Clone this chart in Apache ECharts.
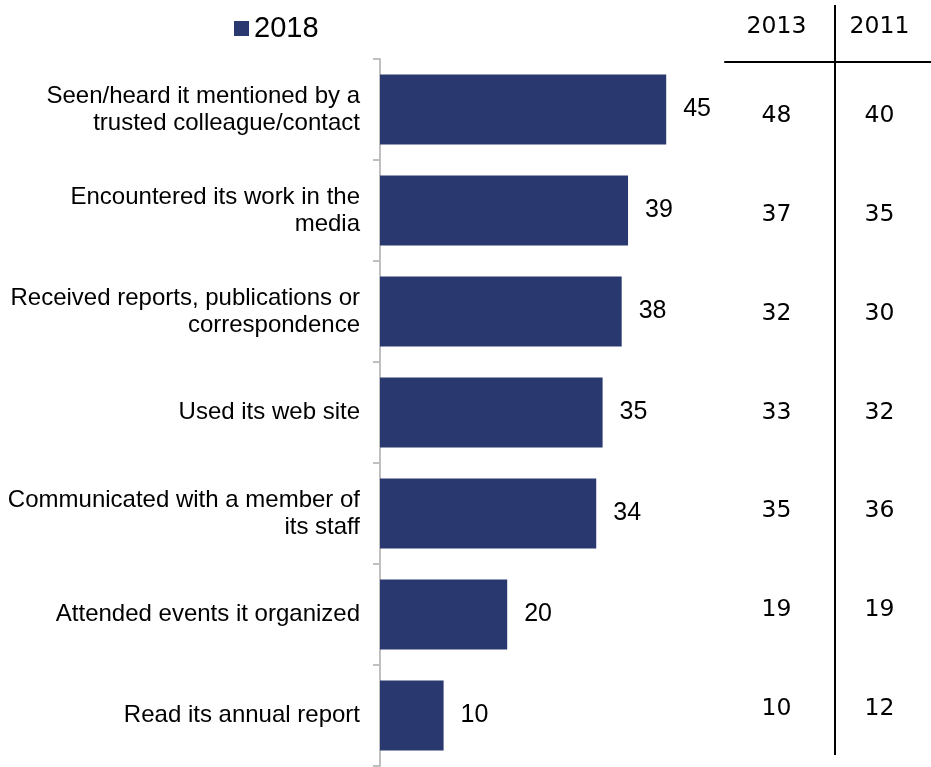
<!DOCTYPE html>
<html>
<head>
<meta charset="utf-8">
<script src="https://cdn.jsdelivr.net/npm/echarts@6/dist/echarts.min.js"></script>
<style>
  html, body { margin: 0; padding: 0; background: #fff; }
  #chart { width: 931px; height: 767px; }
</style>
</head>
<body>
<div id="chart"></div>
<script>
// Ways respondents have come into contact with the organisation
const categories = [
  'Seen/heard it mentioned by a\ntrusted colleague/contact',
  'Encountered its work in the\nmedia',
  'Received reports, publications or\ncorrespondence',
  'Used its web site',
  'Communicated with a member of\nits staff',
  'Attended events it organized',
  'Read its annual report'
];
const values2018 = [45, 39, 38, 35, 34, 20, 10];
const values2013 = [48, 37, 32, 33, 35, 19, 10];
const values2011 = [40, 35, 30, 32, 36, 19, 12];
const tableYears = ['2013', '2011'];

const barColor = '#2A3870';
const sans = '"Liberation Sans", Arial, sans-serif';
const tableFont = '"DejaVu Sans", Verdana, sans-serif';

// comparison table cells: [year column, row category, value]
const tableCells = [];
categories.forEach((c, i) => {
  tableCells.push([tableYears[0], c, values2013[i]]);
  tableCells.push([tableYears[1], c, values2011[i]]);
});

const chart = echarts.init(document.getElementById('chart'), null, { renderer: 'canvas' });

chart.setOption({
  animation: false,
  backgroundColor: '#fff',
  legend: {
    left: 229,
    top: 9,
    itemWidth: 15,
    itemHeight: 15,
    icon: 'rect',
    textStyle: { fontFamily: sans, fontSize: 29, color: '#000' },
    data: ['2018']
  },
  grid: [
    { left: 380, top: 59, width: 318, height: 707 },
    { left: 725, top: 66.6, width: 216, height: 691.8 }
  ],
  xAxis: [
    {
      gridIndex: 0, type: 'value', min: 0, max: 50,
      show: false
    },
    {
      gridIndex: 1, type: 'category', data: tableYears, position: 'top',
      offset: 4.6,
      axisLine: { show: true, lineStyle: { color: '#000', width: 2 } },
      axisTick: { show: false },
      splitLine: { show: false },
      axisLabel: { fontFamily: tableFont, fontSize: 23.5, color: '#000', margin: 23 }
    }
  ],
  yAxis: [
    {
      gridIndex: 0, type: 'category', data: categories, inverse: true,
      axisLine: { show: true, lineStyle: { color: '#BFBFBF', width: 2 } },
      axisTick: { show: true, length: 7, lineStyle: { color: '#BFBFBF', width: 2 } },
      splitLine: { show: false },
      axisLabel: {
        fontFamily: sans, fontSize: 24, color: '#000', margin: 20,
        lineHeight: 27, align: 'right'
      }
    },
    {
      gridIndex: 1, type: 'category', data: categories, inverse: true,
      show: false
    }
  ],
  series: [
    {
      name: '2018',
      type: 'bar',
      xAxisIndex: 0, yAxisIndex: 0,
      data: values2018,
      barWidth: 70,
      itemStyle: { color: barColor },
      label: {
        show: true, position: 'right', distance: 17,
        fontFamily: sans, fontSize: 25, color: '#000'
      }
    },
    {
      name: 'table',
      type: 'scatter',
      xAxisIndex: 1, yAxisIndex: 1,
      data: tableCells,
      encode: { x: 0, y: 1 },
      symbolSize: 1,
      itemStyle: { color: 'rgba(0,0,0,0)', opacity: 1 },
      label: {
        show: true, position: 'inside', opacity: 1,
        formatter: p => String(p.value[2]),
        fontFamily: tableFont, fontSize: 23.5, color: '#000'
      }
    }
  ],
  graphic: [
    {
      type: 'line',
      shape: { x1: 835, y1: 5, x2: 835, y2: 755 },
      style: { stroke: '#000', lineWidth: 2 }
    }
  ]
});
</script>
</body>
</html>
